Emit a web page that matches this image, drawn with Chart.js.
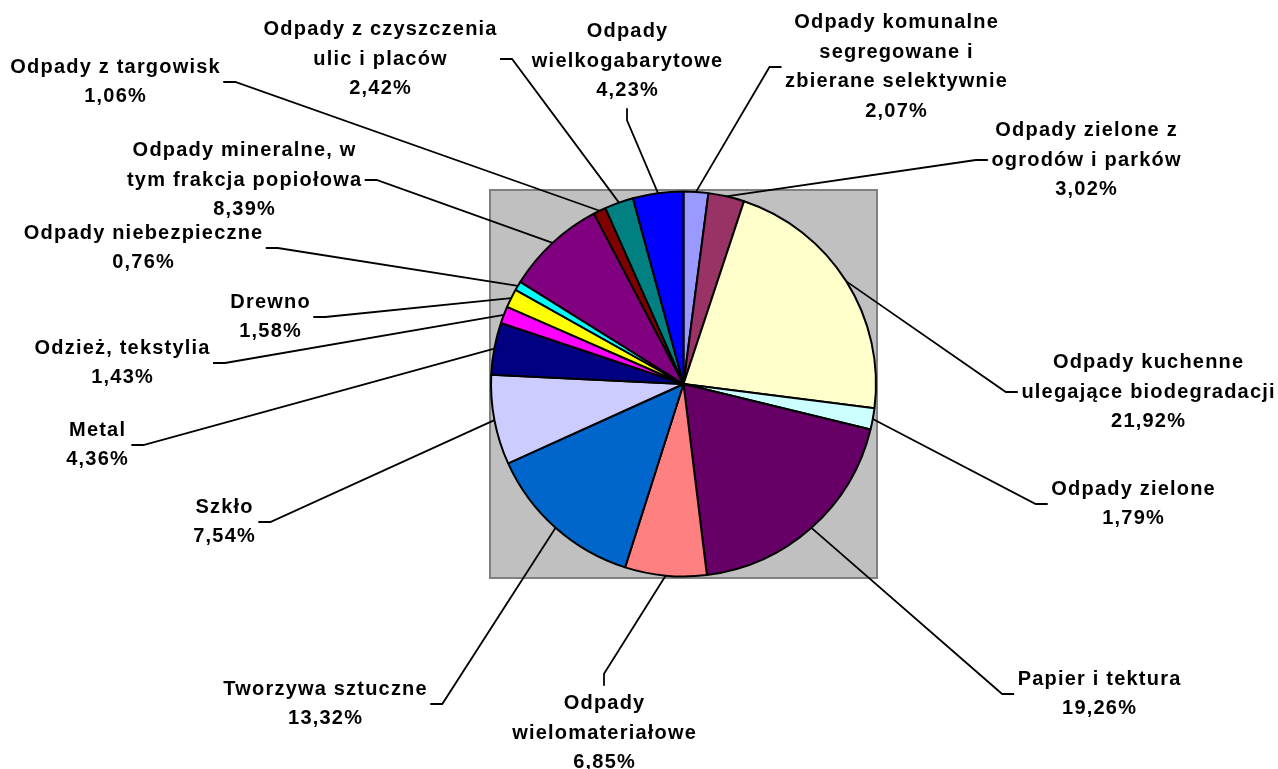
<!DOCTYPE html>
<html>
<head>
<meta charset="utf-8">
<script src="https://cdn.jsdelivr.net/npm/chart.js@4.4.1/dist/chart.umd.min.js"></script>
<style>
html, body { margin: 0; padding: 0; background: #fff; }
#wrap { width: 1278px; height: 769px; }
</style>
</head>
<body>
<div id="wrap"><canvas id="chart" width="1278" height="769"></canvas></div>
<script>
// kategorie odpadów (kolejnosc jak na wykresie, od godz. 12 zgodnie z zegarem)
const categories = [
    "Odpady komunalne\nsegregowane i\nzbierane selektywnie",
    "Odpady zielone z\nogrodów i parków",
    "Odpady kuchenne\nulegające biodegradacji",
    "Odpady zielone",
    "Papier i tektura",
    "Odpady\nwielomateriałowe",
    "Tworzywa sztuczne",
    "Szkło",
    "Metal",
    "Odzież, tekstylia",
    "Drewno",
    "Odpady niebezpieczne",
    "Odpady mineralne, w\ntym frakcja popiołowa",
    "Odpady z targowisk",
    "Odpady z czyszczenia\nulic i placów",
    "Odpady\nwielkogabarytowe"
];

// udzial procentowy
const shares = [2.07, 3.02, 21.92, 1.79, 19.26, 6.85, 13.32, 7.54, 4.36, 1.43, 1.58, 0.76, 8.39, 1.06, 2.42, 4.23];

const sliceColors = [
    "#9999FF", "#993366", "#FFFFCC", "#CCFFFF", "#660066", "#FF8080", "#0066CC", "#CCCCFF",
    "#000080", "#FF00FF", "#FFFF00", "#00FFFF", "#800080", "#800000", "#008080", "#0000FF"
];

// rozmieszczenie etykiet: srodek bloku tekstu + strona, do ktorej dochodzi linia
const labelX = [896, 1086, 1148, 1133, 1099, 604, 325, 224, 97, 122, 270, 143, 244, 115, 380, 627];
const labelY = [67, 160, 392, 504, 694, 733, 704, 522, 445, 363, 317, 248, 180, 82, 59, 61];
const labelSide = ["l", "l", "l", "l", "l", "t", "r", "r", "r", "r", "r", "r", "r", "r", "r", "b"];

const LINE_H = 29.5;
const SPACING = 1.2;
const fmt = v => v.toFixed(2).replace(".", ",") + "%";

// szare tlo obszaru wykresu
const plotBox = {
    id: "plotBox",
    beforeDatasetsDraw(chart) {
        const { ctx, chartArea: a } = chart;
        ctx.save();
        ctx.fillStyle = "#c0c0c0";
        ctx.fillRect(a.left, a.top, a.width, a.height);
        ctx.strokeStyle = "#808080";
        ctx.lineWidth = 2;
        ctx.strokeRect(a.left, a.top, a.width, a.height);
        ctx.restore();
    }
};

// etykiety z liniami odniesienia
const leaderLabels = {
    id: "leaderLabels",
    afterDatasetsDraw(chart) {
        const ctx = chart.ctx;
        const meta = chart.getDatasetMeta(0);
        ctx.save();
        ctx.font = 'bold 20px "Liberation Sans", Arial, sans-serif';
        ctx.letterSpacing = SPACING + "px";
        ctx.textAlign = "center";
        ctx.textBaseline = "middle";
        ctx.fillStyle = "#000";
        ctx.strokeStyle = "#000";
        ctx.lineWidth = 1.8;

        meta.data.forEach((arc, i) => {
            const lines = categories[i].split("\n").concat(fmt(shares[i]));
            const w = Math.max(...lines.map(t => ctx.measureText(t).width));
            const h = lines.length * LINE_H;
            const cx = labelX[i], cy = labelY[i];

            const mid = (arc.startAngle + arc.endAngle) / 2;
            const sx = arc.x + Math.cos(mid) * arc.outerRadius;
            const sy = arc.y + Math.sin(mid) * arc.outerRadius;

            let ax, ay, ex, ey;
            switch (labelSide[i]) {
                case "l": ax = cx - w / 2 - 3; ay = cy; ex = ax - 12; ey = ay; break;
                case "r": ax = cx + w / 2 + 3; ay = cy; ex = ax + 12; ey = ay; break;
                case "t": ax = cx; ay = cy - h / 2 - 3; ex = ax; ey = ay - 12; break;
                default:  ax = cx; ay = cy + h / 2 + 3; ex = ax; ey = ay + 12;
            }
            ctx.beginPath();
            ctx.moveTo(sx, sy);
            ctx.lineTo(ex, ey);
            ctx.lineTo(ax, ay);
            ctx.stroke();

            lines.forEach((t, k) => {
                ctx.fillText(t, cx + SPACING / 2, cy - h / 2 + LINE_H * (k + 0.5));
            });
        });
        ctx.restore();
    }
};

new Chart(document.getElementById("chart"), {
    type: "pie",
    data: {
        labels: categories,
        datasets: [{
            data: shares,
            backgroundColor: sliceColors,
            borderColor: "#000",
            borderWidth: 2
        }]
    },
    options: {
        responsive: false,
        animation: false,
        devicePixelRatio: 1,
        layout: { padding: { left: 490, right: 401, top: 190, bottom: 191 } },
        plugins: {
            legend: { display: false },
            tooltip: { enabled: false }
        }
    },
    plugins: [plotBox, leaderLabels]
});
</script>
</body>
</html>
